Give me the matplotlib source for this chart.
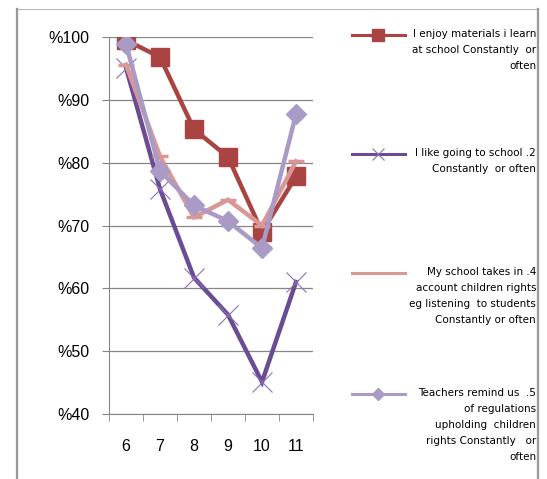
import matplotlib.pyplot as plt
from matplotlib.lines import Line2D
import numpy as np

grades = ["6", "7", "8", "9", "10", "11"]
enjoy_materials = [99.5, 96.8, 85.3, 80.9, 69.0, 77.8]
like_school = [95.1, 75.8, 61.7, 55.8, 45.1, 61.0]
child_rights = [95.6, 81.0, 71.3, 74.1, 70.0, 80.2]
regulations = [98.9, 78.7, 73.2, 70.7, 66.4, 87.7]

labels = [
    "I enjoy materials i learn\nat school Constantly  or\noften",
    "I like going to school .2\nConstantly  or often",
    "My school takes in .4\naccount children rights\neg listening  to students\nConstantly or often",
    "Teachers remind us  .5\nof regulations\nupholding  children\nrights Constantly   or\noften",
]
y_ticks = [40, 50, 60, 70, 80, 90, 100]

plt.rcParams['font.family'] = ['Liberation Sans Narrow', 'DejaVu Sans']

W, H = 547, 479
fig = plt.figure(figsize=(W / 100, H / 100), dpi=100)
ax = fig.add_axes([109 / W, 65 / H, 204 / W, 377 / H])

x = np.arange(len(grades))
styles = [
    dict(color="#AA4443", marker="s", ms=13, mfc="#AA4443", mec="#AA4443"),
    dict(color="#6B4C94", marker="x", ms=14, mew=0.8, mec="#8B70B8"),
    dict(color="#D99795", marker="_", ms=12, mew=2.5),
    dict(color="#A99BC6", marker="D", ms=10, mfc="#A99BC6", mec="#A99BC6"),
]
series = [enjoy_materials, like_school, child_rights, regulations]
for vals, st in zip(series, styles):
    ax.plot(x, vals, lw=3.2, zorder=3, solid_joinstyle="miter", **st)

ax.set_xlim(-0.5, len(grades) - 0.5)
ax.set_ylim(40, 100)
ax.set_yticks(y_ticks)
ax.set_yticklabels(["%" + str(v) for v in y_ticks], fontsize=11.5, family="Liberation Sans")
ax.set_xticks(x)
ax.set_xticklabels(grades, fontsize=11.5, family="Liberation Sans")
ax.set_xticks(np.arange(-0.5, len(grades)), minor=True)
ax.tick_params(axis="x", which="major", length=0, pad=18)
ax.tick_params(axis="x", which="minor", length=5, color="#868686", direction="out")
ax.tick_params(axis="y", length=5, color="#868686", direction="out", pad=9)
ax.grid(axis="y", color="#868686", lw=0.9)
ax.set_axisbelow(True)
for s in ["top", "right"]:
    ax.spines[s].set_visible(False)
for s in ["left", "bottom"]:
    ax.spines[s].set_color("#868686")

# legend drawn by hand on the right
entry_y = [35, 154, 273, 394]
for st, lab, yy in zip(styles, labels, entry_y):
    yf = 1 - yy / H
    st2 = dict(st)
    st2["ms"] = st["ms"] * 0.65
    if st2["marker"] == "_":
        st2["marker"] = "None"
    fig.add_artist(Line2D([352 / W, 378 / W, 405 / W], [yf, yf, yf], lw=2.2,
                          markevery=[1], transform=fig.transFigure, **st2))
    fig.text(536 / W, yf + 6 / H, lab, ha="right", va="top", fontsize=7.5,
             multialignment="right", linespacing=1.75)

# frame around the chart
fig.add_artist(Line2D([17 / W, 538 / W], [1 - 9 / H, 1 - 9 / H], color="#BBBBBB", lw=0.8))
fig.add_artist(Line2D([17 / W, 17 / W], [0, 1 - 9 / H], color="#999999", lw=1.6))
fig.add_artist(Line2D([538 / W, 538 / W], [0, 1 - 9 / H], color="#999999", lw=1.6))

fig.savefig("out.png", dpi=100)
